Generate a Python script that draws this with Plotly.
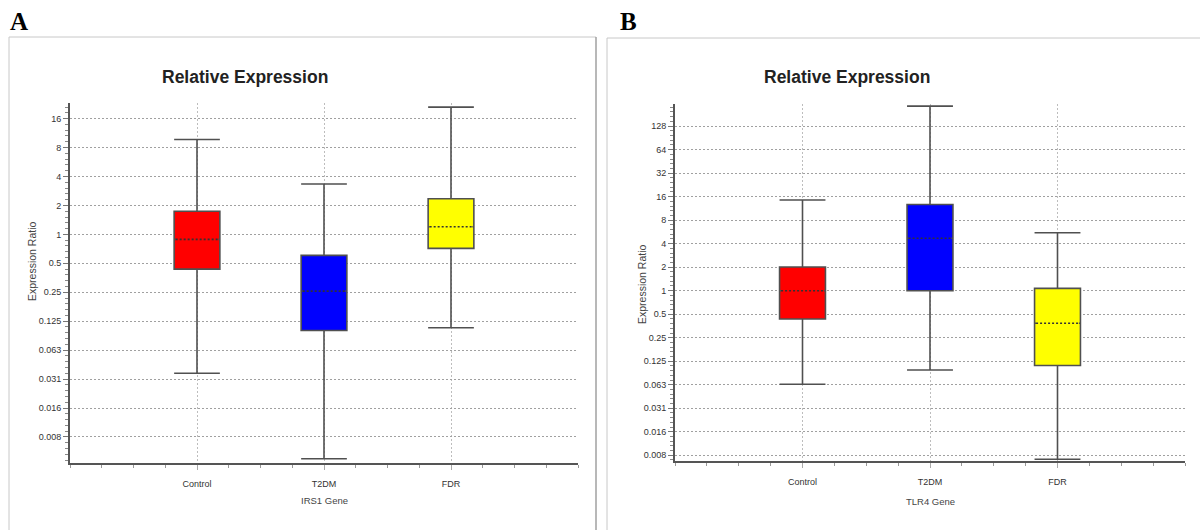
import plotly.graph_objects as go
import math

W, H = 1200, 530

categories = ["Control", "T2DM", "FDR"]
box_colors = ["#ff0000", "#0000ff", "#ffff00"]

# Panel A: IRS1 gene (expression ratio box statistics)
irs1_upper = [9.7, 3.34, 21.1]
irs1_q3 = [1.74, 0.605, 2.35]
irs1_median = [0.887, 0.257, 1.2]
irs1_q1 = [0.435, 0.100, 0.715]
irs1_lower = [0.0359, 0.00463, 0.107]

# Panel B: TLR4 gene
tlr4_upper = [14.5, 231.0, 5.53]
tlr4_q3 = [2.01, 12.7, 1.07]
tlr4_median = [1.0, 4.69, 0.383]
tlr4_q1 = [0.435, 1.0, 0.110]
tlr4_lower = [0.0634, 0.0967, 0.00694]

ytick_vals = [2.0 ** k for k in range(-7, 8)]
ytick_text = ["0.008", "0.016", "0.031", "0.063", "0.125", "0.25", "0.5",
              "1", "2", "4", "8", "16", "32", "64", "128"]

def px(x):
    return x / W

def py(y):
    return 1 - y / H

BOX_W = 0.36
positions = [i + 1 for i in range(len(categories))]

fig = go.Figure()

panels = [
    ("x", "y", irs1_lower, irs1_q1, irs1_median, irs1_q3, irs1_upper),
    ("x2", "y2", tlr4_lower, tlr4_q1, tlr4_median, tlr4_q3, tlr4_upper),
]

for xa, ya, lo, q1, med, q3, up in panels:
    for i, cat in enumerate(categories):
        fig.add_trace(go.Box(
            x=[positions[i]], lowerfence=[lo[i]], q1=[q1[i]], median=[med[i]],
            q3=[q3[i]], upperfence=[up[i]], width=BOX_W, whiskerwidth=1,
            fillcolor=box_colors[i], line=dict(color="#505050", width=1.6),
            boxpoints=False, name=cat, showlegend=False, xaxis=xa, yaxis=ya))
        xs = [positions[i] - BOX_W / 2 + 0.012, positions[i] + BOX_W / 2 - 0.012]
        fig.add_trace(go.Scatter(
            x=xs, y=[med[i], med[i]], mode="lines",
            line=dict(color=box_colors[i], width=2.6),
            showlegend=False, hoverinfo="skip", xaxis=xa, yaxis=ya))
        fig.add_trace(go.Scatter(
            x=xs, y=[med[i], med[i]], mode="lines",
            line=dict(color="#333333", width=1.6, dash="2px,2px"),
            showlegend=False, hoverinfo="skip", xaxis=xa, yaxis=ya))

minor_y = [2.0 ** (k + j / 5) for k in range(-10, 10) for j in range(1, 5)]

def xaxis_cfg(x0, x1):
    return dict(
        domain=[px(x0), px(x1)], range=[0, 4], tickmode="array",
        tickvals=positions, ticktext=categories, ticks="outside", ticklen=5,
        tickcolor="#aaaaaa", tickwidth=1, ticklabelstandoff=6,
        tickfont=dict(size=9, color="#333333"),
        showline=True, linecolor="#555555", linewidth=2,
        showgrid=True, gridcolor="#bdbdbd", griddash="2px,2px", gridwidth=1,
        zeroline=False, fixedrange=True,
        minor=dict(dtick=0.25, tick0=0, ticks="outside", ticklen=3,
                   tickcolor="#999999", showgrid=False),
    )

def yaxis_cfg(y_top, y_bot, lo2, hi2, anchor):
    return dict(
        domain=[py(y_bot), py(y_top)], type="log",
        range=[lo2 * math.log10(2), hi2 * math.log10(2)],
        tickmode="array", tickvals=ytick_vals, ticktext=ytick_text,
        ticks="outside", ticklen=5, tickcolor="#777777", tickwidth=1,
        tickfont=dict(size=9, color="#333333"),
        showline=True, linecolor="#555555", linewidth=2,
        showgrid=True, gridcolor="#a0a0a0", griddash="2px,2px", gridwidth=1,
        zeroline=False, anchor=anchor, fixedrange=True,
        minor=dict(tickmode="array", tickvals=minor_y, ticks="outside",
                   ticklen=3, tickcolor="#888888", showgrid=False),
    )

fig.update_layout(
    width=W, height=H, margin=dict(l=0, r=0, t=0, b=0),
    paper_bgcolor="white", plot_bgcolor="white",
    font=dict(family="Liberation Sans, Arial, sans-serif", color="#333333"),
    xaxis=dict(xaxis_cfg(70, 578), anchor="y"),
    yaxis=yaxis_cfg(103, 463, -7.90, 4.54, "x"),
    xaxis2=dict(xaxis_cfg(675, 1185), anchor="y2"),
    yaxis2=yaxis_cfg(104, 460.7, -7.23, 7.94, "x2"),
)

frame = dict(color="#c8c8c8", width=1)
shapes = [
    dict(type="line", xref="paper", yref="paper", x0=px(9), x1=px(9), y0=py(37), y1=py(530), line=frame),
    dict(type="line", xref="paper", yref="paper", x0=px(9), x1=px(596), y0=py(37), y1=py(37), line=frame),
    dict(type="line", xref="paper", yref="paper", x0=px(596), x1=px(596), y0=py(37), y1=py(530), line=dict(color="#a0a0a0", width=1.5)),
    dict(type="line", xref="paper", yref="paper", x0=px(607), x1=px(607), y0=py(38), y1=py(530), line=frame),
    dict(type="line", xref="paper", yref="paper", x0=px(607), x1=px(1200), y0=py(38), y1=py(38), line=frame),
]
fig.update_layout(shapes=shapes)

ann = []
def add_text(text, x, y, size, family=None, color="#222222", angle=0, bold=False, xanchor="center"):
    ann.append(dict(
        text=("<b>%s</b>" % text) if bold else text, x=px(x), y=py(y),
        xref="paper", yref="paper", showarrow=False, xanchor=xanchor, yanchor="middle",
        textangle=angle,
        font=dict(size=size, color=color, family=family or "Liberation Sans, Arial, sans-serif")))

add_text("A", 8, 22, 25, family="Liberation Serif, Times New Roman, serif", color="#000000", bold=True, xanchor="left")
add_text("B", 618, 22, 25, family="Liberation Serif, Times New Roman, serif", color="#000000", bold=True, xanchor="left")
add_text("Relative Expression", 245, 77, 17.5, color="#222222", bold=True)
add_text("Relative Expression", 847, 77, 17.5, color="#222222", bold=True)
add_text("IRS1 Gene", 324, 500, 9.5, color="#444444")
add_text("TLR4 Gene", 930, 501, 9.5, color="#444444")
add_text("Expression Ratio", 32, 261, 10.5, color="#444444", angle=-90)
add_text("Expression Ratio", 642, 284, 10.5, color="#444444", angle=-90)
fig.update_layout(annotations=ann)

fig.write_html(
    "out.html",
    config={"displayModeBar": False},
    post_script="document.body.style.margin='0';document.body.style.overflow='hidden';",
)
